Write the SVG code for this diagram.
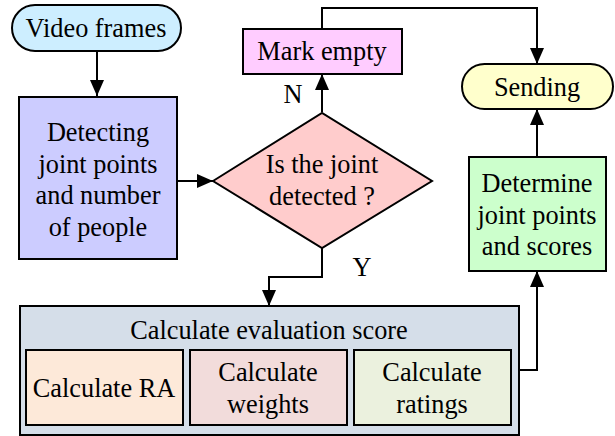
<svg xmlns="http://www.w3.org/2000/svg" width="615" height="436" viewBox="0 0 615 436" font-family="'Liberation Serif', 'Times New Roman', serif">
<style>
text{font-size:26.3px;fill:#000;text-anchor:middle;dominant-baseline:central}
.s{stroke:#000;stroke-width:2}
.c{fill:none;stroke:#000;stroke-width:2}
</style>
<defs>
<marker id="a" viewBox="0 0 16 14" refX="16" refY="7" markerWidth="16" markerHeight="14" markerUnits="userSpaceOnUse" orient="auto">
<path d="M0,0 L16,7 L0,14 z" fill="#000"/>
</marker>
</defs>
<rect width="615" height="436" fill="#fff"/>
<g id="connectors">
<path class="c" d="M97,51 V96" marker-end="url(#a)"/>
<path class="c" d="M177,181 H213" marker-end="url(#a)"/>
<path class="c" d="M322,112 V74" marker-end="url(#a)"/>
<path class="c" d="M322,29 V8 H537 V64" marker-end="url(#a)"/>
<path class="c" d="M322,248 V277 H269 V306" marker-end="url(#a)"/>
<path class="c" d="M519,370 H537 V271" marker-end="url(#a)"/>
<path class="c" d="M537,157 V109" marker-end="url(#a)"/>
<text x="293" y="94">N</text>
<text x="362" y="267">Y</text>
</g>
<g id="video">
<rect class="s" x="12" y="5" width="169" height="46" rx="23" fill="#cdeeff"/>
<text x="96" y="28">Video frames</text>
</g>
<g id="detect">
<rect class="s" x="19" y="97" width="158" height="162" fill="#ccccff"/>
<text x="98" y="132">Detecting</text>
<text x="98" y="164">joint points</text>
<text x="98" y="195">and number</text>
<text x="98" y="227">of people</text>
</g>
<g id="decision">
<polygon class="s" points="213,181 322,113 432,181 322,248" fill="#ffcccc"/>
<text x="322" y="164">Is the joint</text>
<text x="322" y="196">detected ?</text>
</g>
<g id="mark">
<rect class="s" x="243" y="29" width="159" height="45" fill="#ffccff"/>
<text x="322" y="51">Mark empty</text>
</g>
<g id="sending">
<rect class="s" x="462" y="64" width="151" height="45" rx="22.5" fill="#ffffcc"/>
<text x="537" y="87">Sending</text>
</g>
<g id="determine">
<rect class="s" x="469" y="157" width="137" height="114" fill="#ccffcc"/>
<text x="537" y="183">Determine</text>
<text x="537" y="215">joint points</text>
<text x="537" y="246">and scores</text>
</g>
<g id="evaluation">
<rect class="s" x="20" y="306" width="499" height="129" fill="#d5dee9"/>
<text x="269" y="330">Calculate evaluation score</text>
</g>
<g id="ra">
<rect class="s" x="26" y="350" width="157" height="75" fill="#fde9d9"/>
<text x="104" y="388">Calculate RA</text>
</g>
<g id="weights">
<rect class="s" x="190" y="350" width="157" height="75" fill="#f2dcdb"/>
<text x="268" y="372">Calculate</text>
<text x="268" y="404">weights</text>
</g>
<g id="ratings">
<rect class="s" x="354" y="350" width="157" height="75" fill="#ebf1de"/>
<text x="432" y="372">Calculate</text>
<text x="432" y="404">ratings</text>
</g>
</svg>
